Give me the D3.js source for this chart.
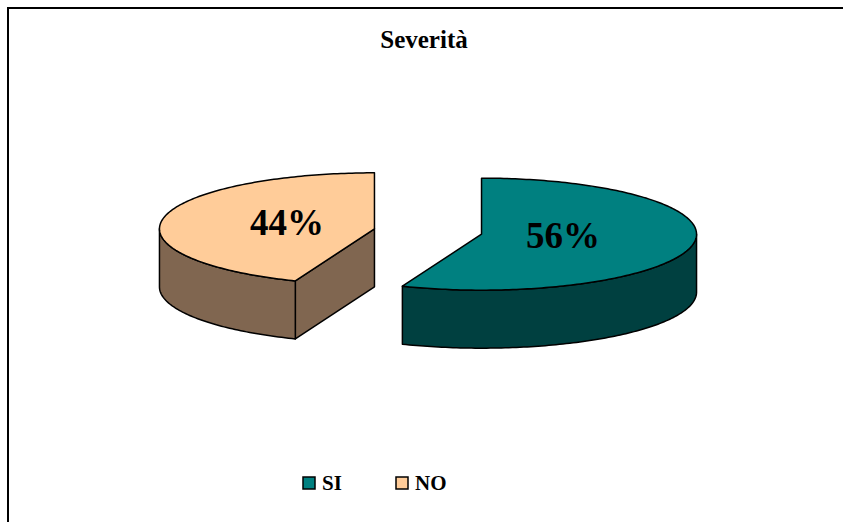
<!DOCTYPE html>
<html>
<head>
<meta charset="utf-8">
<script src="https://cdn.jsdelivr.net/npm/d3@7/dist/d3.min.js"></script>
<style>
  html, body { margin: 0; padding: 0; background: #fff; }
  svg { display: block; }
</style>
</head>
<body>
<svg id="chart" width="843" height="522"></svg>
<script>
// Chart data
const title = "Severità";
const categories = ["SI", "NO"];
const values = [56, 44];
const topColors = ["#008080", "#FFCC99"];
const sideColors = ["#004040", "#806650"];

const W = 843, H = 522;
const FONT = "'Liberation Serif', 'Times New Roman', Times, serif";
const svg = d3.select("#chart");

const addText = (sel, size) => sel
  .attr("font-family", FONT)
  .attr("font-weight", "bold")
  .attr("font-size", size)
  .attr("fill", "#000");

// Chart frame
svg.append("rect")
  .attr("x", 8).attr("y", 8)
  .attr("width", W + 20).attr("height", H + 20)
  .attr("fill", "#fff").attr("stroke", "#000").attr("stroke-width", 2);

// Title
addText(svg.append("text"), 25)
  .attr("x", 424).attr("y", 48)
  .attr("text-anchor", "middle")
  .text(title);

// 3D pie geometry
const cx = 428, cy = 231.5;   // centre of the unexploded pie
const rx = 215, ry = 56;      // ellipse radii of the top face
const depth = 58;             // thickness of the pie
const explode = 54.5;         // radial explosion distance

const pie = d3.pie().sort(null).value(d => d.value).startAngle(0).endAngle(2 * Math.PI);
const data = categories.map((c, i) => ({ name: c, value: values[i], top: topColors[i], side: sideColors[i] }));
const arcs = pie(data);

// projection of a point on the rim (angle clockwise from 12 o'clock)
const rim = (ox, oy, a, r = 1) => [ox + r * rx * Math.sin(a), oy - r * ry * Math.cos(a)];

const line = d3.line();
const steps = a => Math.max(2, Math.ceil(Math.abs(a) / (Math.PI / 180)));

const g = svg.append("g");

arcs.forEach(s => {
  const mid = (s.startAngle + s.endAngle) / 2;
  s.mid = mid;
  s.ox = cx + explode * Math.sin(mid);
  s.oy = cy - explode * Math.cos(mid) * ry / rx;
});

// side walls first
arcs.forEach(s => {
  const { ox, oy } = s;
  // radial faces: visible when their outward normal points towards the viewer
  [[s.startAngle, s.startAngle - Math.PI / 2], [s.endAngle, s.endAngle + Math.PI / 2]].forEach(([a, n]) => {
    if (-Math.cos(n) > 1e-6) {
      const p = rim(ox, oy, a);
      const pts = [[ox, oy], p, [p[0], p[1] + depth], [ox, oy + depth]];
      g.append("path")
        .attr("d", line(pts) + "Z")
        .attr("fill", s.data.side)
        .attr("stroke", "#000").attr("stroke-width", 1.5).attr("stroke-linejoin", "round");
    }
  });
  // curved outer wall: front half of the ellipse
  const a0 = Math.max(s.startAngle, Math.PI / 2);
  const a1 = Math.min(s.endAngle, 3 * Math.PI / 2);
  if (a1 > a0) {
    const n = steps(a1 - a0);
    const angles = d3.range(n + 1).map(i => a0 + (a1 - a0) * i / n);
    const upper = angles.map(a => rim(ox, oy, a));
    const lower = angles.slice().reverse().map(a => { const p = rim(ox, oy, a); return [p[0], p[1] + depth]; });
    g.append("path")
      .attr("d", line(upper.concat(lower)) + "Z")
      .attr("fill", s.data.side)
      .attr("stroke", "#000").attr("stroke-width", 1.5).attr("stroke-linejoin", "round");
  }
});

// top faces
arcs.forEach(s => {
  const { ox, oy } = s;
  const n = steps(s.endAngle - s.startAngle);
  const angles = d3.range(n + 1).map(i => s.startAngle + (s.endAngle - s.startAngle) * i / n);
  const pts = [[ox, oy]].concat(angles.map(a => rim(ox, oy, a)));
  g.append("path")
    .attr("d", line(pts) + "Z")
    .attr("fill", s.data.top)
    .attr("stroke", "#000").attr("stroke-width", 1.5).attr("stroke-linejoin", "round");
});

// percentage labels
const total = d3.sum(values);
arcs.forEach(s => {
  const p = rim(s.ox, s.oy, s.mid, 0.4);
  addText(svg.append("text"), 37)
    .attr("x", p[0] - 3).attr("y", p[1] + 10)
    .attr("text-anchor", "middle")
    .text(Math.round(s.data.value / total * 100) + "%");
});

// legend
const legendX = d3.scalePoint().domain(categories).range([303, 396]);
const legend = svg.append("g");
categories.forEach((c, i) => {
  const x = legendX(c);
  legend.append("rect")
    .attr("x", x).attr("y", 477).attr("width", 12).attr("height", 12)
    .attr("fill", topColors[i]).attr("stroke", "#000").attr("stroke-width", 1.5);
  addText(legend.append("text"), 21)
    .attr("x", x + 19).attr("y", 490)
    .text(c);
});
</script>
</body>
</html>
